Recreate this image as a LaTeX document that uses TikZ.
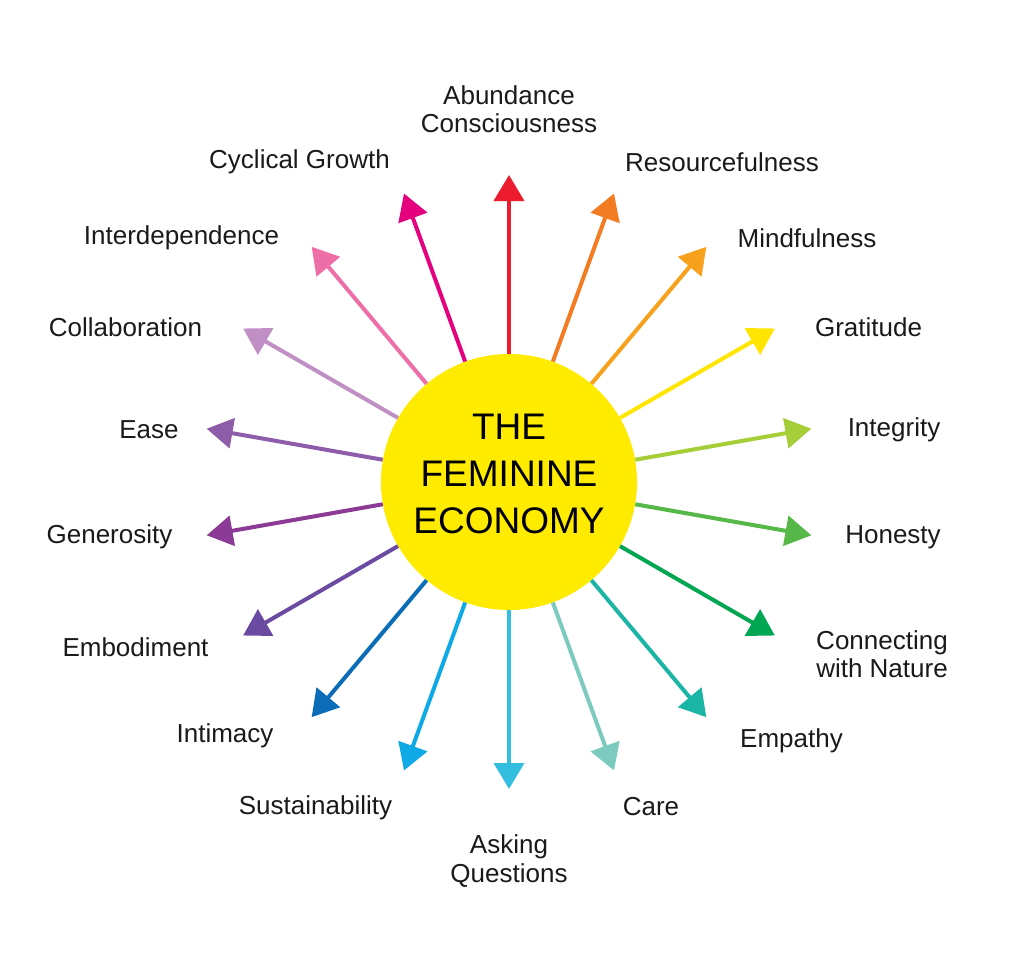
\documentclass[tikz,border=0pt]{standalone}
\usepackage{fontspec}
\setmainfont{Liberation Sans}
\usetikzlibrary{arrows.meta,calc}
\definecolor{sun}{HTML}{FFEB00}
\definecolor{txt}{HTML}{1A1A1A}
\definecolor{k90}{HTML}{EC1C2E}
\definecolor{k70}{HTML}{F37B22}
\definecolor{k50}{HTML}{F8A11D}
\definecolor{k30}{HTML}{FFE500}
\definecolor{k10}{HTML}{A6CE39}
\definecolor{km10}{HTML}{55B848}
\definecolor{km30}{HTML}{00A651}
\definecolor{km50}{HTML}{1BB5A5}
\definecolor{km70}{HTML}{7DCBC0}
\definecolor{km90}{HTML}{33BEE0}
\definecolor{km110}{HTML}{0FA9E6}
\definecolor{km130}{HTML}{0B6DB7}
\definecolor{km150}{HTML}{6B4BA1}
\definecolor{km170}{HTML}{8B3A96}
\definecolor{k170}{HTML}{8E5DAA}
\definecolor{k150}{HTML}{BF8FC5}
\definecolor{k130}{HTML}{EE6FA8}
\definecolor{k110}{HTML}{E5007E}
\begin{document}
\begin{tikzpicture}[x=1pt,y=-1pt,
  arr/.style={line width=4pt,-{Triangle[length=26pt,width=30pt]}},
  lbl/.style={font=\fontsize{26}{28.5}\selectfont,text=txt,align=center,inner sep=0pt}]
\useasboundingbox[fill=white] (0,0) rectangle (1033,964);
\node[circle,fill=sun,minimum size=256pt,inner sep=0pt] (c) at (509,482) {};
\node[inner sep=0pt,align=center,font=\fontsize{37}{47}\selectfont,text=black] (title) at (509,473.5) {THE\\FEMININE\\ECONOMY};
\foreach \a/\n in {90/k90,70/k70,50/k50,30/k30,10/k10,-10/km10,-30/km30,-50/km50,-70/km70,-90/km90,-110/km110,-130/km130,-150/km150,-170/km170,170/k170,150/k150,130/k130,110/k110}{
  \coordinate (t\n) at ($(c.center)+(\a:307pt)$);
  \draw[arr,\n] (c.\a) -- (t\n);
}
\node[lbl] (l90) at (509,109) {Abundance\\Consciousness};
\node[lbl] (l110) at (299.5,162) {Cyclical Growth};
\node[lbl] (l70) at (722,162) {Resourcefulness};
\node[lbl] (l130) at (181.5,238) {Interdependence};
\node[lbl] (l50) at (807,238) {Mindfulness};
\node[lbl] (l150) at (125.5,327) {Collaboration};
\node[lbl] (l30) at (868.5,327) {Gratitude};
\node[lbl] (l170) at (149,430) {Ease};
\node[lbl] (l10) at (894,430) {Integrity};
\node[lbl] (lm170) at (109.5,537) {Generosity};
\node[lbl] (lm10) at (893,537) {Honesty};
\node[lbl] (lm150) at (135.5,647) {Embodiment};
\node[lbl] (lm30) at (882,654) {Connecting\\with Nature};
\node[lbl] (lm130) at (225,736) {Intimacy};
\node[lbl] (lm50) at (791.5,741) {Empathy};
\node[lbl] (lm110) at (315.5,808) {Sustainability};
\node[lbl] (lm70) at (651,807) {Care};
\node[lbl] (lm90) at (509,861) {Asking\\Questions};
\end{tikzpicture}
\end{document}
